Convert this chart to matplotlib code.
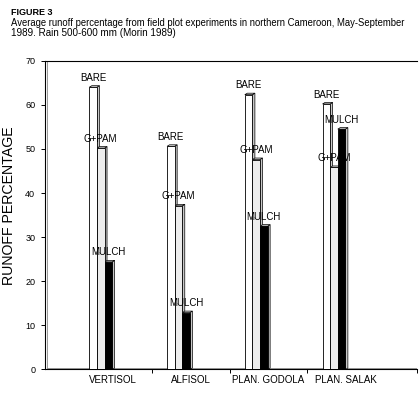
import matplotlib
matplotlib.use('Agg')
import matplotlib.pyplot as plt
from matplotlib.patches import Polygon
import numpy as np

plt.rcParams['font.family'] = ['Liberation Sans', 'DejaVu Sans']

sites = ['VERTISOL', 'ALFISOL', 'PLAN. GODOLA', 'PLAN. SALAK']
treatments = ['BARE', 'G+PAM', 'MULCH']
bare = [64, 50.6, 62.3, 60.2]
gpam = [50.2, 37.1, 47.6, 45.8]
mulch = [24.4, 12.9, 32.5, 54.5]
yticks = [0, 10, 20, 30, 40, 50, 60, 70]

face_cols = ['white', '#ededed', 'black']
side_col = '#c8c8c8'

fig = plt.figure(figsize=(4.19, 3.93), dpi=100)
ax = fig.add_axes([0.1074, 0.0598, 0.8878, 0.7857])

x = np.arange(len(sites))
w = 0.098
offs = [-0.305, -0.207, -0.109]
dx = 0.032  # 3d depth
dy = 0.34

for k, vals in enumerate([bare, gpam, mulch]):
    left = x + offs[k]
    ax.bar(left, vals, width=w, align='edge', color=face_cols[k],
           edgecolor='black', linewidth=0.6, zorder=3)
    for l, v in zip(left, vals):
        # side and top faces
        side = Polygon([(l + w, 0), (l + w + dx, dy), (l + w + dx, v + dy), (l + w, v)],
                       closed=True, facecolor=side_col, edgecolor='black', linewidth=0.5, zorder=2)
        top = Polygon([(l, v), (l + dx, v + dy), (l + w + dx, v + dy), (l + w, v)],
                      closed=True, facecolor='#e0e0e0', edgecolor='black', linewidth=0.5, zorder=2)
        ax.add_patch(side)
        ax.add_patch(top)
        ax.text(l + w / 2, v + 1.0, treatments[k], ha='center', va='bottom',
                fontsize=7, color='black', zorder=5)

xlo, xhi = -0.875, 3.91
ax.set_xlim(xlo, xhi)
ax.set_ylim(0, 70)

# back wall / floor lines of the 3d frame
ax.plot([xlo + dx, xlo + dx], [dy, 70], color='#888888', lw=0.6, zorder=1)
ax.plot([xlo + dx, xhi], [dy, dy], color='#888888', lw=0.6, zorder=1)

ax.spines['right'].set_visible(False)
for s in ['left', 'top', 'bottom']:
    ax.spines[s].set_linewidth(0.8)

ax.set_yticks(yticks)
ax.set_yticklabels([str(t) for t in yticks], fontsize=6.5)
ax.tick_params(axis='y', length=3, width=0.7, pad=4)

ax.set_xticks(x)
ax.set_xticklabels(sites, fontsize=7)
ax.set_xticks([0.5, 1.5, 2.5, xhi - 0.001], minor=True)
ax.tick_params(axis='x', which='major', length=0, pad=4)
ax.tick_params(axis='x', which='minor', length=3, width=0.7)

fig.text(0.021, 0.476, 'RUNOFF PERCENTAGE', rotation=90, ha='center', va='center',
         fontsize=10.2)

fig.text(0.026, 0.969, 'FIGURE 3', fontsize=6.5, fontweight='bold', va='center')
fig.text(0.026, 0.941, 'Average runoff percentage from field plot experiments in northern Cameroon, May-September',
         fontsize=6.85, va='center')
fig.text(0.026, 0.916, '1989. Rain 500-600 mm (Morin 1989)', fontsize=7.1, va='center')

fig.savefig('out.png', dpi=100)
